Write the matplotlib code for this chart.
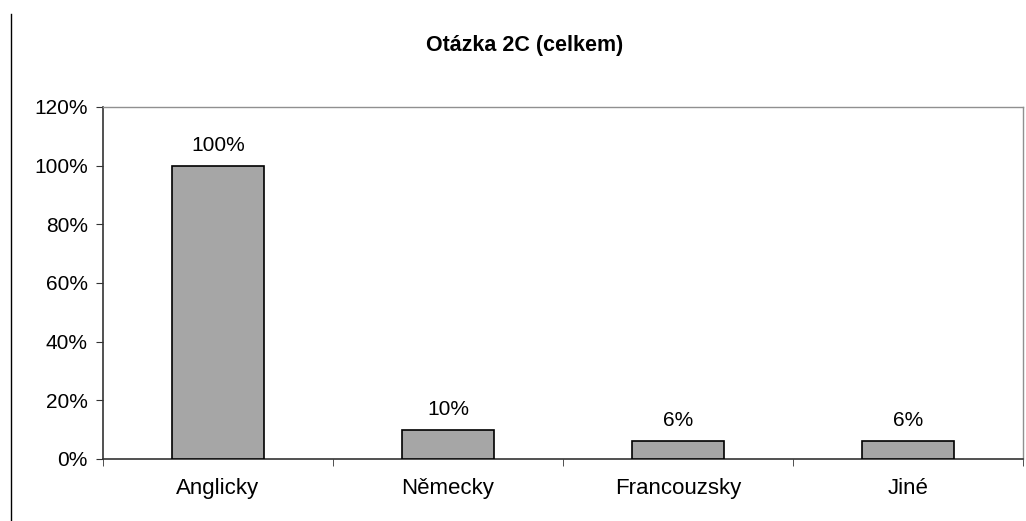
import matplotlib.pyplot as plt
import numpy as np
from matplotlib.lines import Line2D

plt.rcParams['font.family'] = ['Liberation Sans', 'DejaVu Sans']

# data
categories = ['Anglicky', 'Německy', 'Francouzsky', 'Jiné']
values = [100, 10, 6, 6]
value_labels = ['100%', '10%', '6%', '6%']
y_ticks = [0, 20, 40, 60, 80, 100, 120]

fig = plt.figure(figsize=(10.26, 5.21), dpi=100)
ax = fig.add_axes([103 / 1026, 62 / 521, 920 / 1026, 352 / 521])

x = np.arange(len(categories))
ax.bar(x, values, width=0.4, color='#a6a6a6', edgecolor='black', linewidth=1.2, zorder=3)

# value labels above bars
for xi, v, lab in zip(x, values, value_labels):
    ax.annotate(lab, (xi, v), xytext=(0, 8), textcoords='offset points',
                ha='center', va='bottom', fontsize=15)

ax.set_xlim(-0.5, len(categories) - 0.5)
ax.set_ylim(0, 120)
ax.set_yticks(y_ticks)
ax.set_yticklabels([f'{t}%' for t in y_ticks], fontsize=15)
ax.set_xticks(x)
ax.set_xticklabels(categories, fontsize=16)
ax.tick_params(axis='x', which='major', length=0, pad=14)
ax.set_xticks(np.arange(-0.5, len(categories)), minor=True)
ax.tick_params(axis='x', which='minor', length=5, direction='out', color='#333333')
ax.tick_params(axis='y', length=5, direction='out', pad=6, color='#333333')

for s in ['left', 'bottom']:
    ax.spines[s].set_color('#333333')
    ax.spines[s].set_linewidth(1.2)
for s in ['top', 'right']:
    ax.spines[s].set_color('#909090')
    ax.spines[s].set_linewidth(1.0)

# title
fig.text(525 / 1026, 1 - 45 / 521, 'Otázka 2C (celkem)', ha='center', va='center',
         fontsize=15.5, fontweight='bold')

# left border line
fig.add_artist(Line2D([11 / 1026, 11 / 1026], [0, 1 - 14 / 521], color='black', linewidth=1.0))

plt.savefig('out.png', dpi=100)
